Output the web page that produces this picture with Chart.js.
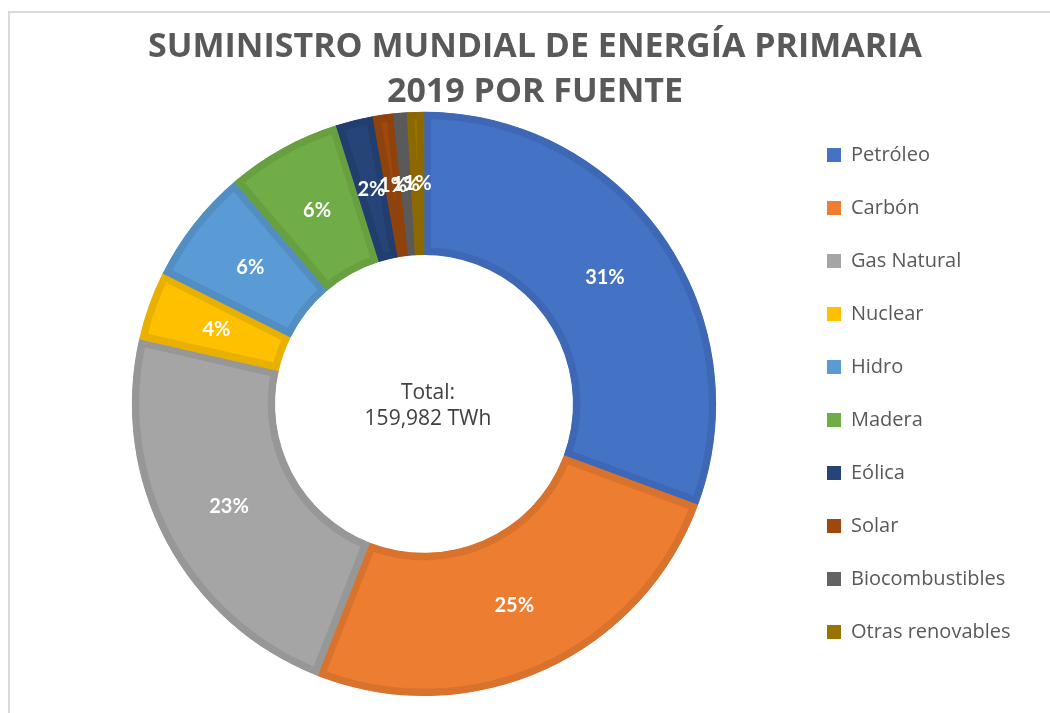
<!DOCTYPE html>
<html>
<head>
<meta charset="utf-8">
<script src="https://cdn.jsdelivr.net/npm/chart.js@4.4.1/dist/chart.umd.min.js"></script>
<style>
  body { margin: 0; background: #fff; }
  #frame {
    position: absolute; left: 8px; top: 11px;
    width: 1040px; height: 700px;
    border-top: 2px solid #d9d9d9; border-left: 2px solid #d9d9d9;
  }
</style>
</head>
<body>
<div id="frame"><canvas id="myChart" width="1040" height="700"></canvas></div>
<script>
// datos (TWh)
var fuentes = ["Petróleo", "Carbón", "Gas Natural", "Nuclear", "Hidro", "Madera", "Eólica", "Solar", "Biocombustibles", "Otras renovables"];
var valores = [49000, 40500, 36200, 6100, 10200, 10200, 3300, 1800, 1200, 1482];
var colores = ["#4472C4", "#ED7D31", "#A5A5A5", "#FFC000", "#5B9BD5", "#70AD47", "#264478", "#9E480E", "#636363", "#997300"];
var bordes = ["#3E68B5", "#D8722D", "#979797", "#E9B000", "#538EC3", "#679F41", "#223E6E", "#90420D", "#5A5A5A", "#8B6900"];
var titulo = ["SUMINISTRO MUNDIAL DE ENERGÍA PRIMARIA", "2019 POR FUENTE"];
var textoCentro = ["Total:", "159,982 TWh"];

var total = valores.reduce(function(a, b) { return a + b; }, 0);

var etiquetas = {
	id: 'etiquetas',
	afterDatasetsDraw: function(chart) {
		var ctx = chart.ctx;
		var meta = chart.getDatasetMeta(0);
		ctx.save();
		ctx.fillStyle = '#ffffff';
		ctx.font = 'bold 20px Lato';
		ctx.textAlign = 'center';
		ctx.textBaseline = 'middle';
		meta.data.forEach(function(arc, i) {
			var p = arc.tooltipPosition();
			ctx.fillText(Math.round(valores[i] / total * 100) + '%', p.x, p.y);
		});
		// texto central
		var c = meta.data[0];
		ctx.fillStyle = '#404040';
		ctx.font = '21px "Open Sans"';
		ctx.fillText(textoCentro[0], c.x + 4, c.y - 11);
		ctx.fillText(textoCentro[1], c.x + 4, c.y + 15);
		ctx.restore();
	}
};

// la leyenda queda un poco más abajo que en el layout por defecto
var moverLeyenda = {
	id: 'moverLeyenda',
	afterLayout: function(chart) {
		chart.legend.top += 39;
		chart.legend.bottom += 39;
	}
};

var ctx = document.getElementById("myChart");
var myChart = new Chart(ctx, {
	type: 'doughnut',
	data: {
		labels: fuentes,
		datasets: [{
			data: valores,
			backgroundColor: colores,
			borderColor: bordes,
			borderWidth: 7,
			borderAlign: 'inner'
		}]
	},
	options: {
		responsive: false,
		animation: false,
		cutout: '51%',
		layout: { padding: { left: 44, right: 34, top: 0, bottom: 17 } },
		plugins: {
			title: {
				display: true,
				text: titulo,
				color: '#595959',
				font: { family: 'Open Sans', size: 34, weight: 'bold', lineHeight: 1.32 },
				padding: { top: 12, bottom: -3 }
			},
			legend: {
				position: 'right',
				maxWidth: 222,
				labels: {
					color: '#595959',
					font: { family: 'Open Sans', size: 20 },
					boxWidth: 14,
					boxHeight: 14,
					padding: 33,
					generateLabels: function(chart) {
						var items = Chart.overrides.doughnut.plugins.legend.labels.generateLabels(chart);
						items.forEach(function(it) {
							it.lineWidth = 0;
							it.strokeStyle = it.fillStyle;
						});
						return items;
					}
				}
			},
			tooltip: { enabled: false }
		}
	},
	plugins: [etiquetas, moverLeyenda]
});
</script>
</body>
</html>
